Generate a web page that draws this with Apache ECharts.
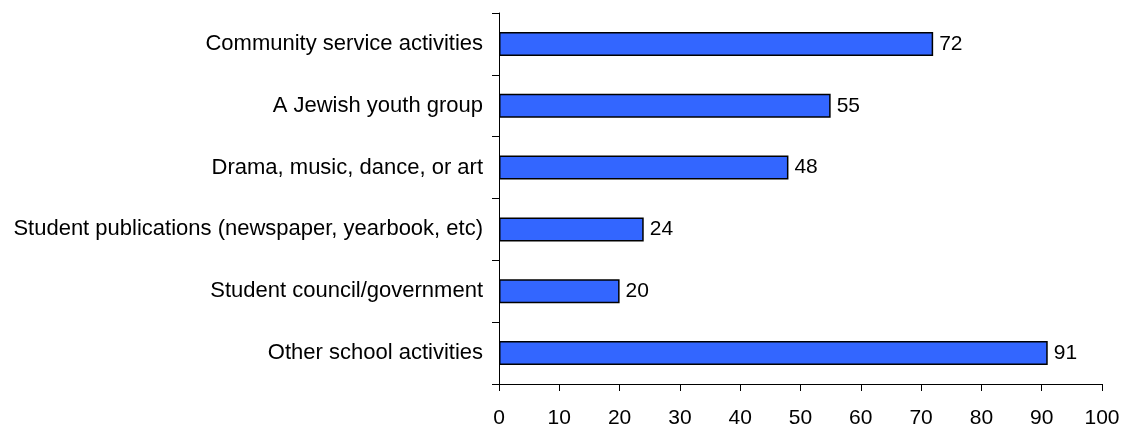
<!DOCTYPE html>
<html>
<head>
<meta charset="utf-8">
<script src="https://cdn.jsdelivr.net/npm/echarts@6/dist/echarts.min.js"></script>
<style>
  html, body { margin: 0; padding: 0; background: #fff; }
  #chart { width: 1126px; height: 426px; }
</style>
</head>
<body>
<div id="chart"></div>
<script>
// Activities, listed bottom-to-top as ECharts draws a category y-axis
const categories = [
  'Other school activities',
  'Student council/government',
  'Student publications (newspaper, yearbook, etc)',
  'Drama, music, dance, or art',
  'A Jewish youth group',
  'Community service activities'
];
const values = [91, 20, 24, 48, 55, 72];
const xTicks = [0, 10, 20, 30, 40, 50, 60, 70, 80, 90, 100];

const chart = echarts.init(document.getElementById('chart'), null, { renderer: 'canvas' });
const font = 'Arial, "Liberation Sans", sans-serif';

chart.setOption({
  animation: false,
  backgroundColor: '#ffffff',
  grid: {
    left: 499, right: 24, top: 13, bottom: 42,
    containLabel: false,
    outerBoundsMode: 'none'
  },
  xAxis: {
    type: 'value',
    min: xTicks[0],
    max: xTicks[xTicks.length - 1],
    interval: 10,
    axisLine: { show: true, lineStyle: { color: '#000', width: 1 } },
    axisTick: { show: true, length: 7, lineStyle: { color: '#000' } },
    axisLabel: { color: '#000', fontSize: 21, fontFamily: font, margin: 24 },
    splitLine: { show: false }
  },
  yAxis: {
    type: 'category',
    data: categories,
    axisLine: { show: true, lineStyle: { color: '#000', width: 1 } },
    axisTick: { show: true, length: 7, lineStyle: { color: '#000' } },
    axisLabel: { color: '#000', fontSize: 22, fontFamily: font, margin: 16 }
  },
  series: [{
    type: 'bar',
    data: values,
    barWidth: 24,
    itemStyle: { color: '#3366FF', borderColor: '#000', borderWidth: 1.5 },
    label: {
      show: true,
      position: 'right',
      distance: 6,
      color: '#000',
      fontSize: 21,
      fontFamily: font
    }
  }]
});
</script>
</body>
</html>
